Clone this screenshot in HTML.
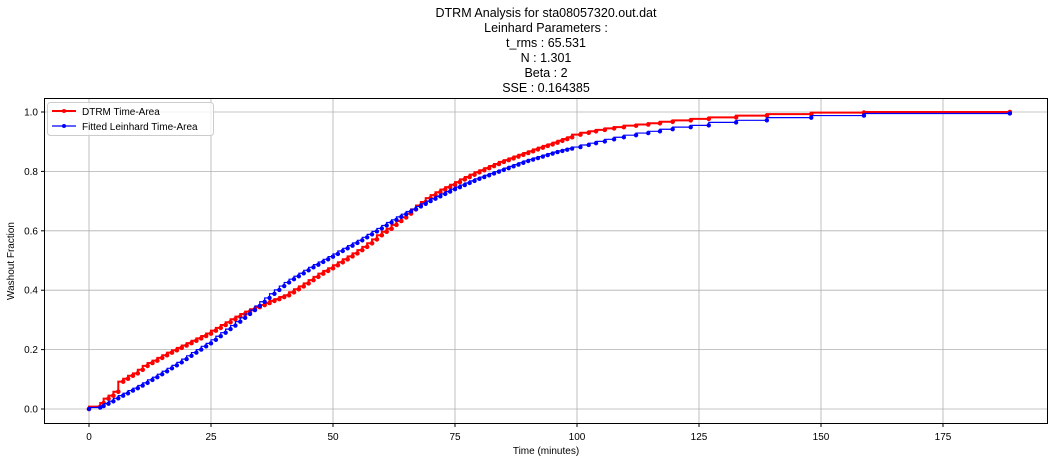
<!DOCTYPE html>
<html><head><meta charset="utf-8"><style>
body{margin:0;background:#fff;width:1055px;height:462px;overflow:hidden;font-family:"Liberation Sans",sans-serif}
svg text{font-family:"Liberation Sans",sans-serif}
</style></head><body>
<svg id="chart" width="1055" height="462" xmlns="http://www.w3.org/2000/svg">
<g font-size="12.5" text-anchor="middle" fill="#000">
<text x="546" y="17">DTRM Analysis for sta08057320.out.dat</text>
<text x="546" y="32">Leinhard Parameters :</text>
<text x="546" y="47">t_rms : 65.531</text>
<text x="546" y="62">N : 1.301</text>
<text x="546" y="77">Beta : 2</text>
<text x="546" y="92">SSE : 0.164385</text>
</g>
<g id="grid"></g>
<g id="ticks" font-size="10" fill="#000"></g>
<g id="series"></g>
<rect x="44.5" y="98.5" width="1003" height="325" fill="none" stroke="#000" stroke-width="1"/>
<text x="546" y="454" font-size="10" text-anchor="middle">Time (minutes)</text>
<text transform="translate(14,261) rotate(-90)" font-size="10" text-anchor="middle">Washout Fraction</text>
<g>
<rect x="47.5" y="102.5" width="166" height="33" rx="3" fill="#fff" fill-opacity="0.8" stroke="#ccc"/>
<g>
<line x1="52" y1="111" x2="76" y2="111" stroke="#f00" stroke-width="2"/><circle cx="64" cy="111" r="2" fill="#f00"/>
<text x="82" y="115" font-size="10">DTRM Time-Area</text></g>
<g>
<line x1="52" y1="126" x2="76" y2="126" stroke="#00f" stroke-width="1.2"/><circle cx="64" cy="126" r="2" fill="#00f"/>
<text x="82" y="130" font-size="10">Fitted Leinhard Time-Area</text></g>
</g>
</svg>
<script>
const xTicks=[0,25,50,75,100,125,150,175];
const yTicks=[0.0,0.2,0.4,0.6,0.8,1.0];
const midX=[3,4,5,6,7,8,9,10,11,12,13,14,15,16,17,18,19,20,21,22,23,24,25,26,27,28,29,30,31,32,33,34,35,36,37,38,39,40,41,42,43,44,45,46,47,48,49,50,51,52,53,54,55,56,57,58,59,60,61,62,63,64,65,66,67,68,69,70,71,72,73,74,75,76,77,78,79,80,81,82,83,84,85,86,87,88,89,90,91,92,93,94,95,96,97,98,99];
const tailX=[100.7,102.4,103.9,105.7,107.6,109.6,112.1,114.6,117,119.6,123.3,127,132.6,138.9,148,158.8,188.7];
const redMidY=[0.02,0.035,0.045,0.058,0.092,0.102,0.112,0.12,0.132,0.145,0.155,0.163,0.172,0.181,0.19,0.198,0.206,0.214,0.222,0.23,0.238,0.246,0.254,0.264,0.273,0.283,0.292,0.302,0.311,0.32,0.328,0.336,0.343,0.35,0.357,0.364,0.37,0.377,0.383,0.393,0.403,0.413,0.423,0.434,0.445,0.456,0.465,0.474,0.484,0.494,0.504,0.514,0.524,0.535,0.546,0.558,0.571,0.585,0.597,0.607,0.62,0.633,0.645,0.658,0.672,0.685,0.697,0.71,0.72,0.73,0.739,0.747,0.755,0.764,0.773,0.781,0.789,0.797,0.804,0.811,0.818,0.825,0.832,0.838,0.844,0.85,0.856,0.862,0.868,0.874,0.88,0.886,0.891,0.897,0.903,0.909,0.915];
const redTailY=[0.924,0.93,0.935,0.94,0.945,0.949,0.954,0.958,0.962,0.967,0.972,0.977,0.982,0.988,0.993,0.998,1.0];
const blueMidY=[0.01,0.018,0.026,0.036,0.045,0.053,0.062,0.07,0.079,0.088,0.098,0.107,0.117,0.127,0.137,0.147,0.157,0.168,0.179,0.19,0.2,0.211,0.221,0.233,0.245,0.257,0.269,0.281,0.294,0.307,0.32,0.333,0.347,0.361,0.374,0.388,0.401,0.414,0.426,0.437,0.447,0.457,0.467,0.477,0.486,0.495,0.504,0.513,0.522,0.532,0.541,0.55,0.559,0.568,0.578,0.588,0.598,0.608,0.618,0.628,0.637,0.647,0.656,0.665,0.673,0.682,0.691,0.7,0.708,0.716,0.724,0.732,0.74,0.747,0.754,0.761,0.768,0.775,0.781,0.787,0.793,0.799,0.805,0.811,0.817,0.823,0.829,0.835,0.84,0.845,0.85,0.855,0.86,0.865,0.869,0.873,0.877];
const blueTailY=[0.882,0.889,0.895,0.901,0.908,0.915,0.922,0.929,0.935,0.942,0.949,0.955,0.965,0.972,0.981,0.988,0.995];
const startX=[0,2.3];
const redStartY=[0,0.008];
const blueStartY=[0,0.005];
const NS="http://www.w3.org/2000/svg";
const sx=v=>89+v*4.88;
const sy=v=>409-v*297;
function mk(tag,attrs,parent){const e=document.createElementNS(NS,tag);for(const k in attrs)e.setAttribute(k,attrs[k]);parent.appendChild(e);return e;}
const grid=document.getElementById('grid'),ticks=document.getElementById('ticks'),series=document.getElementById('series');
xTicks.forEach(t=>{
 const l=mk('line',{x1:sx(t),x2:sx(t),y1:99,y2:423,stroke:'#b0b0b0','stroke-width':0.8},grid);
 
 
 mk('line',{x1:sx(t),x2:sx(t),y1:424,y2:427,stroke:'#000'},ticks);
 const tx=mk('text',{x:sx(t),y:440,'text-anchor':'middle'},ticks);tx.textContent=t;
 
 
});
yTicks.forEach(t=>{
 const l=mk('line',{x1:45,x2:1047,y1:sy(t),y2:sy(t),stroke:'#b0b0b0','stroke-width':0.8},grid);
 
 
 mk('line',{x1:41,x2:44,y1:sy(t),y2:sy(t),stroke:'#000'},ticks);
 const tx=mk('text',{x:38,y:sy(t)+3.5,'text-anchor':'end'},ticks);tx.textContent=t.toFixed(1);
 
 
});
function draw(xs,ys,color,w,name,r){
 const n=Math.min(xs.length,ys.length);
 let d='M'+sx(xs[0])+' '+sy(ys[0]);
 for(let i=1;i<n;i++){d+=' L'+sx(xs[i-1])+' '+sy(ys[i])+' L'+sx(xs[i])+' '+sy(ys[i]);}
 const p=mk('path',{d:d,fill:'none',stroke:color,'stroke-width':w},series);
 
 
 for(let i=0;i<n;i++){
  const c=mk('circle',{cx:sx(xs[i]),cy:sy(ys[i]),r:r,fill:color},series);
  
  
 }
}
const allX=startX.concat(midX,tailX);
draw(allX,redStartY.concat(redMidY,redTailY),'#f00',2,'dtrm',2.3);
draw(allX,blueStartY.concat(blueMidY,blueTailY),'#00f',1.2,'fitted',2.2);
</script>
</body></html>
